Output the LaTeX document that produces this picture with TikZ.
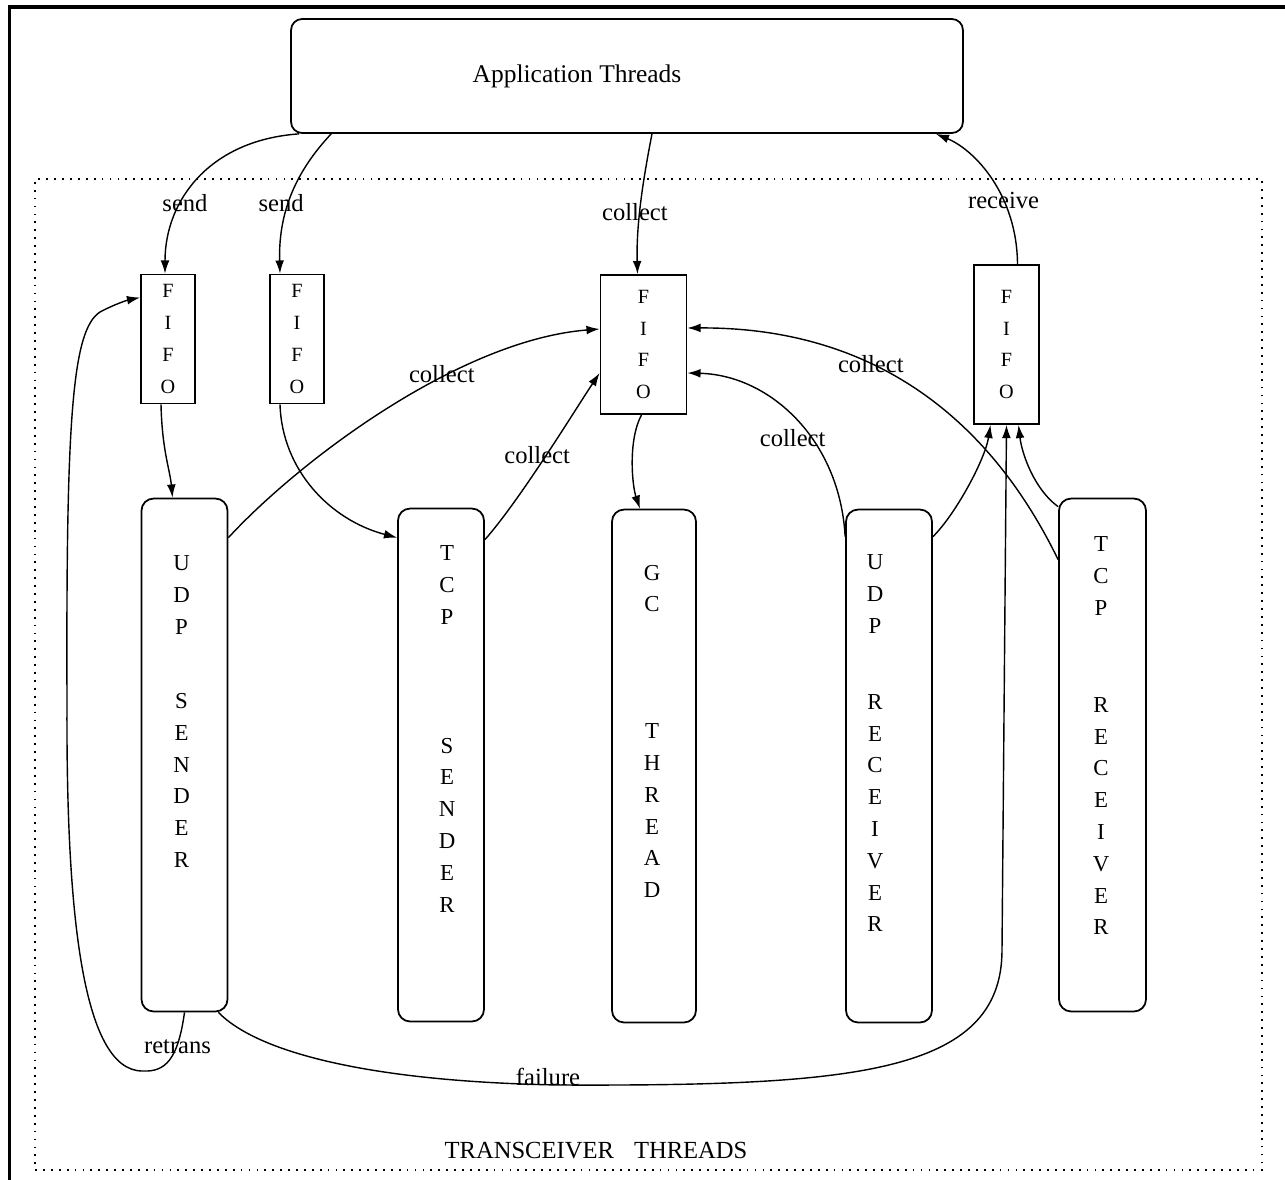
\documentclass[tikz,border=0pt]{standalone}
\usepackage{fontspec}
\setmainfont{Liberation Serif}
\usetikzlibrary{arrows.meta,positioning}

\tikzset{
  thread/.style={draw, line width=1pt, rounded corners=0.24cm, minimum width=1.72cm, minimum height=10.26cm},
  fifo/.style={draw, line width=1pt, minimum width=1.08cm, minimum height=2.58cm, align=center, inner sep=0pt, font=\fontsize{11.5}{18.1}\selectfont},
  letters/.style={align=center, inner sep=0pt, font=\fontsize{13}{18.1}\selectfont},
  lbl/.style={inner sep=1pt, font=\fontsize{14}{16}\selectfont},
  flow/.style={-{Latex[length=7.5pt,width=5pt]}, line width=0.8pt},
}

\begin{document}
\begin{tikzpicture}[x=0.02cm, y=-0.02cm]
\useasboundingbox (0,0) rectangle (1285,1180);
\draw[line width=2.2pt] (9.5,1180) -- (9.5,7) -- (1285,7);

\node[draw, line width=1pt, dash pattern=on 1pt off 3.5pt, minimum width=24.54cm, minimum height=19.82cm] (trx) at (648.5,674.5) {};
\node[inner sep=0pt, font=\fontsize{14}{16}\selectfont, above=0.24cm of trx.south, xshift=-1.05cm] (trxname) {TRANSCEIVER\hspace{0.4cm}THREADS};

\node[draw, line width=1pt, rounded corners=0.22cm, minimum width=13.44cm, minimum height=2.28cm] (app) at (627,76) {};
\node[font=\fontsize{14.5}{17}\selectfont, xshift=-1cm] (apptitle) at (app.center) {Application Threads};

% fifo queues
\node[fifo] (fifoa) at (168,339) {F\\I\\F\\O};
\node[fifo] (fifob) at (297,339) {F\\I\\F\\O};
\node[fifo, minimum width=1.72cm, minimum height=2.78cm] (fifoc) at (643.5,344.5) {F\\I\\F\\O};
\node[fifo, minimum width=1.3cm, minimum height=3.18cm] (fifod) at (1006.5,344.5) {F\\I\\F\\O};

% transceiver threads
\node[thread] (udps) at (184.5,755) {};
\node[thread] (tcps) at (441,765) {};
\node[thread, minimum width=1.68cm] (gc) at (654,766) {};
\node[thread] (udpr) at (889,766) {};
\node[thread, minimum width=1.74cm] (tcpr) at (1102.5,755) {};

\node[letters, below=1.16cm of udps.north, xshift=-0.06cm] (udpsname) {U\\D\\P\\[24pt]S\\E\\N\\D\\E\\R};
\node[letters, below=0.76cm of tcps.north, xshift=0.12cm] (tcpsname) {T\\C\\P\\[55pt]S\\E\\N\\D\\E\\R};
\node[letters, below=1.12cm of gc.north, xshift=-0.04cm] (gcname) {G\\C\\[54pt]T\\H\\R\\E\\A\\D};
\node[letters, below=0.92cm of udpr.north, xshift=-0.28cm] (udprname) {U\\D\\P\\[25pt]R\\E\\C\\E\\I\\V\\E\\R};
\node[letters, below=0.78cm of tcpr.north, xshift=-0.03cm] (tcprname) {T\\C\\P\\[37pt]R\\E\\C\\E\\I\\V\\E\\R};

% application side
\draw[flow] ([xshift=0.18cm]app.south west) .. controls (210,140) and (165,200) .. ([xshift=-0.06cm]fifoa.north) node[lbl, pos=0.65, xshift=0.07cm] {send};
\draw[flow] ([xshift=0.82cm]app.south west) .. controls (302,165) and (278,205) .. ([xshift=-0.34cm]fifob.north) node[lbl, pos=0.55, xshift=-0.2cm, yshift=-0.14cm] {send};
\draw[flow] ([xshift=0.5cm]app.south) .. controls (645,170) and (636,220) .. ([xshift=-0.12cm]fifoc.north) node[lbl, pos=0.6, xshift=-0.1cm] {collect};
\draw[flow] ([xshift=0.22cm]fifod.north) .. controls (1017,195) and (975,150) .. ([xshift=-0.56cm]app.south east) node[lbl, pos=0.35] {receive};

% queues to threads
\draw[flow] ([xshift=-0.14cm]fifoa.south) .. controls (162,450) and (170,470) .. ([xshift=-0.24cm]udps.north);
\draw[flow] ([xshift=-0.34cm]fifob.south) .. controls (282,470) and (330,520) .. ([yshift=-0.6cm]tcps.north west);
\draw[flow] ([xshift=-0.04cm]fifoc.south) .. controls (628,440) and (632,485) .. ([xshift=-0.28cm]gc.north);

% collect
\draw[flow] ([yshift=-0.8cm]udps.north east) .. controls (300,460) and (460,340) .. ([yshift=0.31cm]fifoc.west) node[lbl, pos=0.63, yshift=0.08cm] {collect};
\draw[flow] ([yshift=-0.64cm]tcps.north east) .. controls (520,500) and (575,410) .. ([yshift=-0.57cm]fifoc.west) node[lbl, pos=0.5, xshift=-0.18cm] {collect};
\draw[flow] ([yshift=-0.56cm]udpr.north west) .. controls (840,440) and (770,375) .. ([yshift=-0.57cm]fifoc.east) node[lbl, pos=0.4, xshift=-0.37cm] {collect};
\draw[flow] ([yshift=-1.24cm]tcpr.north west) .. controls (983,405) and (860,327) .. ([yshift=0.33cm]fifoc.east) node[lbl, pos=0.6] {collect};

% receivers
\draw[flow] ([yshift=-0.56cm]udpr.north east) .. controls (955,515) and (985,460) .. ([xshift=-0.32cm]fifod.south);
\draw[flow] ([yshift=-0.18cm]tcpr.north west) .. controls (1035,490) and (1022,455) .. ([xshift=0.24cm]fifod.south);

% failure and retrans
\draw[flow] ([xshift=-0.2cm]udps.south east) .. controls (260,1055) and (380,1082) .. (560,1085) node[lbl, pos=1, anchor=base, xshift=-0.24cm] {failure} .. controls (850,1086) and (1002,1075) .. (1002,950) -- (fifod.south);
\draw[flow] (udps.south) .. controls (178,1060) and (165,1072) .. (143,1071) node[lbl, pos=0.5, xshift=0.16cm, yshift=0.26cm] {retrans} .. controls (80,1072) and (66,900) .. (67,700) .. controls (66,420) and (72,330) .. (100,312) .. controls (115,304) and (128,300) .. ([yshift=0.83cm]fifoa.west);

\end{tikzpicture}
\end{document}
